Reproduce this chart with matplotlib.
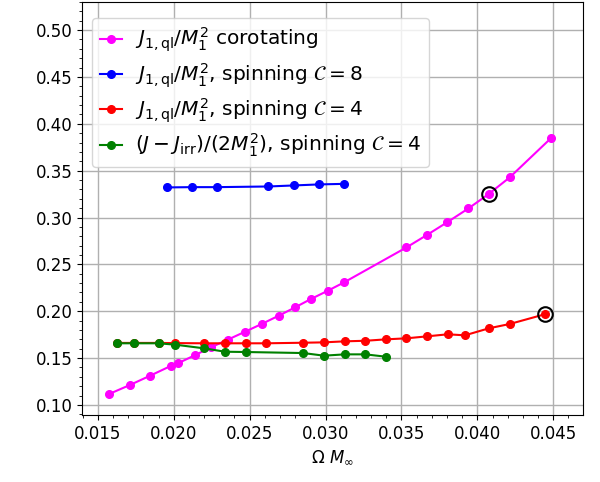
import matplotlib
matplotlib.use("Agg")
import matplotlib.pyplot as plt
from matplotlib.ticker import MultipleLocator

# corotating sequence
om_corot = [0.01574, 0.01711, 0.01844, 0.01980, 0.02028, 0.02138, 0.02245, 0.02355,
            0.02469, 0.02579, 0.02691, 0.02800, 0.02903, 0.03015, 0.03122, 0.03533,
            0.03666, 0.03803, 0.03941, 0.04074, 0.04213, 0.04487]
j_corot = [0.1117, 0.1213, 0.1312, 0.1416, 0.1445, 0.1530, 0.1615, 0.1696,
           0.1781, 0.1864, 0.1952, 0.2042, 0.2130, 0.2219, 0.2308, 0.2681,
           0.2812, 0.2951, 0.3097, 0.3250, 0.3428, 0.3850]

# spinning C=8
om_c8 = [0.01958, 0.02118, 0.02285, 0.02622, 0.02790, 0.02956, 0.03121]
j_c8 = [0.3321, 0.3324, 0.3324, 0.3331, 0.3342, 0.3353, 0.3359]

# spinning C=4
om_c4 = [0.01629, 0.01739, 0.01901, 0.02011, 0.02201, 0.02338, 0.02474, 0.02609,
         0.02853, 0.02989, 0.03127, 0.03263, 0.03397, 0.03533, 0.03668, 0.03805,
         0.03918, 0.04076, 0.04213, 0.04443]
j_c4 = [0.1662, 0.1662, 0.1662, 0.1660, 0.1658, 0.1658, 0.1658, 0.1658,
        0.1664, 0.1668, 0.1679, 0.1685, 0.1700, 0.1711, 0.1732, 0.1754,
        0.1743, 0.1818, 0.1864, 0.1967]

# (J - J_irr)/(2 M1^2), spinning C=4
om_irr = [0.01629, 0.01739, 0.01901, 0.02011, 0.02201, 0.02338, 0.02474,
          0.02853, 0.02989, 0.03127, 0.03263, 0.03397]
j_irr = [0.1658, 0.1658, 0.1658, 0.1643, 0.1604, 0.1568, 0.1565,
         0.1554, 0.1526, 0.1540, 0.1540, 0.1515]

# circled points
om_mark = [0.04074, 0.04443]
j_mark = [0.3250, 0.1967]

fig = plt.figure(figsize=(6, 4.82), dpi=100)
ax = fig.add_axes([0.137, 0.139, 0.835, 0.857])

ax.plot(om_corot, j_corot, "o-", color="magenta", ms=5.5, lw=1.5,
        label=r"$J_{1,\mathrm{ql}}/M_1^2$ corotating")
ax.plot(om_c8, j_c8, "o-", color="blue", ms=5.5, lw=1.5,
        label=r"$J_{1,\mathrm{ql}}/M_1^2$, spinning $\mathcal{C}=8$")
ax.plot(om_c4, j_c4, "o-", color="red", ms=5.5, lw=1.5,
        label=r"$J_{1,\mathrm{ql}}/M_1^2$, spinning $\mathcal{C}=4$")
ax.plot(om_irr, j_irr, "o-", color="green", ms=5.5, lw=1.5,
        label=r"$(J-J_{\mathrm{irr}})/(2M_1^2)$, spinning $\mathcal{C}=4$")
ax.plot(om_mark, j_mark, "o", ms=10.5, mfc="none", mec="black", mew=1.5)

ax.set_xlim(0.01397, 0.04697)
ax.set_ylim(0.0893, 0.530)
ax.xaxis.set_major_locator(MultipleLocator(0.005))
ax.xaxis.set_minor_locator(MultipleLocator(0.001))
ax.yaxis.set_major_locator(MultipleLocator(0.05))
ax.yaxis.set_minor_locator(MultipleLocator(0.01))
ax.tick_params(labelsize=12)
ax.grid(True, which="major", color="#b0b0b0", lw=1)
ax.set_xlabel(r"$\Omega\ M_\infty$", fontsize=12)
ax.legend(loc="upper left", bbox_to_anchor=(0.02, 0.962), borderaxespad=0,
          fontsize=14.5, handlelength=1.1, handletextpad=0.6, labelspacing=0.35,
          borderpad=0.4)

fig.savefig("out.png", dpi=100)
